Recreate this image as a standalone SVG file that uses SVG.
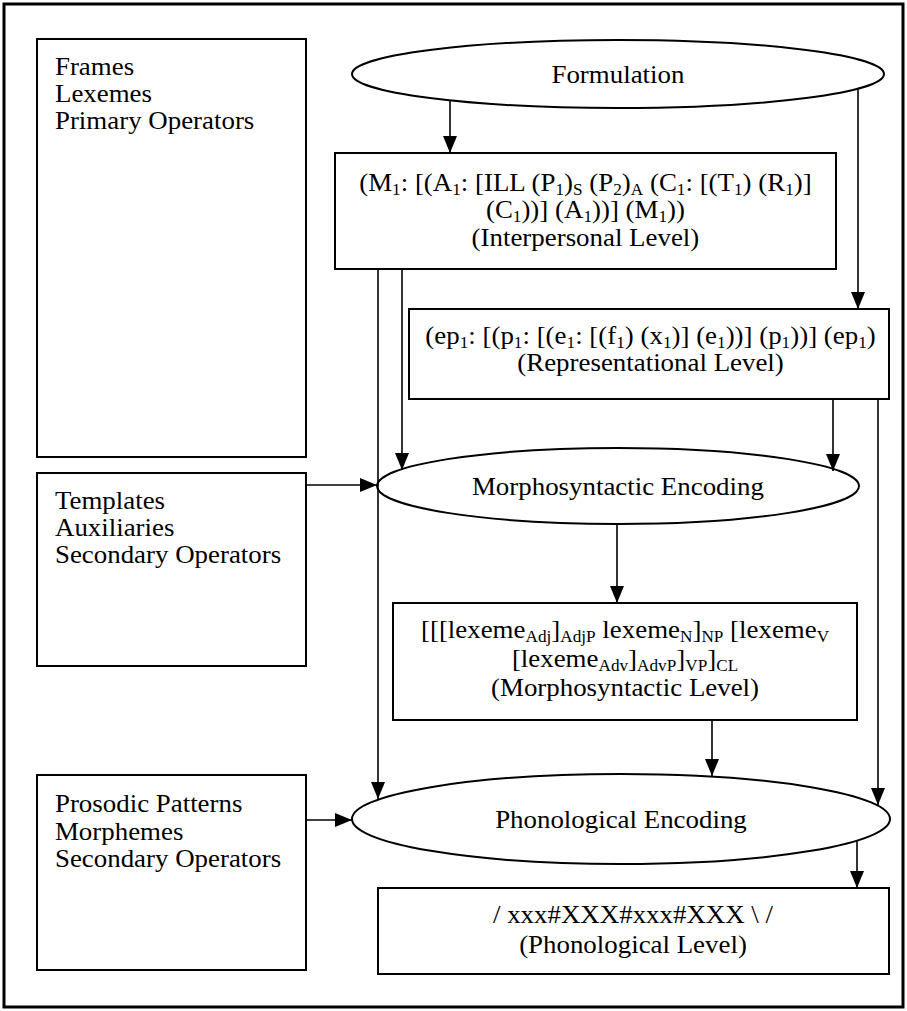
<svg xmlns="http://www.w3.org/2000/svg" width="907" height="1011" viewBox="0 0 907 1011">
<defs>
<style>
.box{fill:#fff;stroke:#000;stroke-width:2}
.ell{fill:#fff;stroke:#000;stroke-width:2}
.frame{fill:#fff;stroke:#000;stroke-width:3}
.con{fill:none;stroke:#000;stroke-width:1.6}
text{font-family:"Liberation Serif","Times New Roman",serif;font-size:25px;fill:#000}
.c{text-anchor:middle}
.s{font-size:16px;baseline-shift:-4px}
</style>
<marker id="ah" markerWidth="17" markerHeight="14" refX="17" refY="7" orient="auto" markerUnits="userSpaceOnUse"><path d="M0,0 L17,7 L0,14 z" fill="#000"/></marker>
</defs>
<rect class="frame" x="4" y="4" width="899" height="1003"/>
<g id="resources1">
<rect class="box" x="37" y="39" width="269" height="418"/>
<text transform="scale(1.076,1)" x="51.1" y="75">Frames</text>
<text transform="scale(1.076,1)" x="51.1" y="102">Lexemes</text>
<text transform="scale(1.076,1)" x="51.1" y="129">Primary Operators</text>
</g>
<g id="resources2">
<rect class="box" x="37" y="473" width="269" height="193"/>
<text transform="scale(1.076,1)" x="51.1" y="509">Templates</text>
<text transform="scale(1.076,1)" x="51.1" y="536">Auxiliaries</text>
<text transform="scale(1.076,1)" x="51.1" y="563">Secondary Operators</text>
</g>
<g id="resources3">
<rect class="box" x="37" y="775" width="269" height="195"/>
<text transform="scale(1.076,1)" x="51.1" y="812">Prosodic Patterns</text>
<text transform="scale(1.076,1)" x="51.1" y="840">Morphemes</text>
<text transform="scale(1.076,1)" x="51.1" y="867">Secondary Operators</text>
</g>
<g id="formulation">
<ellipse class="ell" cx="618" cy="74" rx="266" ry="34"/>
<text class="c" transform="scale(1.076,1)" x="574.3" y="83">Formulation</text>
</g>
<g id="interpersonal">
<rect class="box" x="335" y="153" width="501" height="116"/>
<text class="c" transform="scale(1.076,1)" x="544.1" y="191">(M<tspan class="s">1</tspan>: [(A<tspan class="s">1</tspan>: [ILL (P<tspan class="s">1</tspan>)<tspan class="s">S</tspan> (P<tspan class="s">2</tspan>)<tspan class="s">A</tspan> (C<tspan class="s">1</tspan>: [(T<tspan class="s">1</tspan>) (R<tspan class="s">1</tspan>)]</text>
<text class="c" transform="scale(1.076,1)" x="544.1" y="218">(C<tspan class="s">1</tspan>))] (A<tspan class="s">1</tspan>))] (M<tspan class="s">1</tspan>))</text>
<text class="c" transform="scale(1.076,1)" x="544.1" y="246">(Interpersonal Level)</text>
</g>
<g id="representational">
<rect class="box" x="409" y="309" width="480" height="90"/>
<text class="c" transform="scale(1.076,1)" x="604.6" y="344">(ep<tspan class="s">1</tspan>: [(p<tspan class="s">1</tspan>: [(e<tspan class="s">1</tspan>: [(f<tspan class="s">1</tspan>) (x<tspan class="s">1</tspan>)] (e<tspan class="s">1</tspan>))] (p<tspan class="s">1</tspan>))] (ep<tspan class="s">1</tspan>)</text>
<text class="c" transform="scale(1.076,1)" x="604.6" y="371">(Representational Level)</text>
</g>
<g id="morphoEncoding">
<ellipse class="ell" cx="618" cy="486" rx="241" ry="38"/>
<text class="c" transform="scale(1.076,1)" x="574.3" y="495">Morphosyntactic Encoding</text>
</g>
<g id="morphoLevel">
<rect class="box" x="393" y="603" width="464" height="117"/>
<text class="c" transform="scale(1.076,1)" x="580.9" y="638">[[[lexeme<tspan class="s">Adj</tspan>]<tspan class="s">AdjP</tspan> lexeme<tspan class="s">N</tspan>]<tspan class="s">NP</tspan> [lexeme<tspan class="s">V</tspan></text>
<text class="c" transform="scale(1.076,1)" x="580.9" y="667">[lexeme<tspan class="s">Adv</tspan>]<tspan class="s">AdvP</tspan>]<tspan class="s">VP</tspan>]<tspan class="s">CL</tspan></text>
<text class="c" transform="scale(1.076,1)" x="580.9" y="696">(Morphosyntactic Level)</text>
</g>
<g id="phonoEncoding">
<ellipse class="ell" cx="621" cy="819" rx="269" ry="45"/>
<text class="c" transform="scale(1.076,1)" x="577.1" y="828">Phonological Encoding</text>
</g>
<g id="phonoLevel">
<rect class="box" x="378" y="888" width="511" height="86"/>
<text class="c" transform="scale(1.076,1)" x="588.3" y="923">/ xxx#XXX#xxx#XXX \ /</text>
<text class="c" transform="scale(1.076,1)" x="588.3" y="953">(Phonological Level)</text>
</g>
<g id="connectors">
<path class="con" d="M450,100 L450,153" marker-end="url(#ah)"/>
<path class="con" d="M858,88 L858,309" marker-end="url(#ah)"/>
<path class="con" d="M378,269 L378,799" marker-end="url(#ah)"/>
<path class="con" d="M402,269 L402,470" marker-end="url(#ah)"/>
<path class="con" d="M833,399 L833,471" marker-end="url(#ah)"/>
<path class="con" d="M878,399 L878,805" marker-end="url(#ah)"/>
<path class="con" d="M306,485 L377,485" marker-end="url(#ah)"/>
<path class="con" d="M617,524 L617,603" marker-end="url(#ah)"/>
<path class="con" d="M712,720 L712,776" marker-end="url(#ah)"/>
<path class="con" d="M306,820 L352,820" marker-end="url(#ah)"/>
<path class="con" d="M857,840 L857,888" marker-end="url(#ah)"/>
</g>
</svg>
